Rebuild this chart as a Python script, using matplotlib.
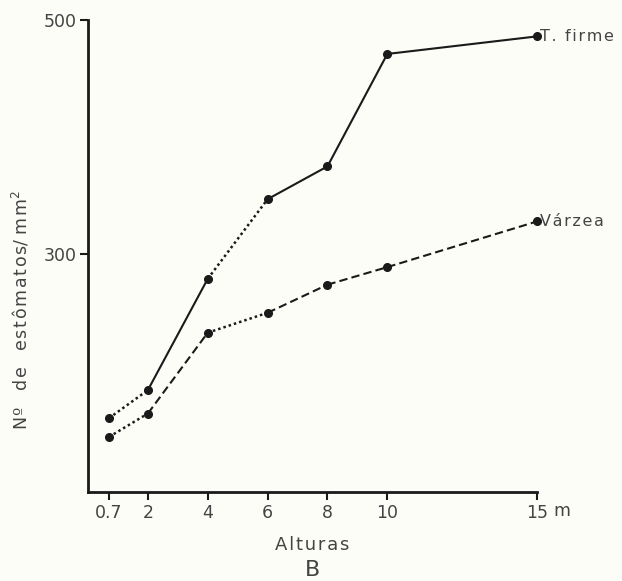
import matplotlib
matplotlib.use("Agg")
import matplotlib.pyplot as plt

# ---- data ----
heights = [0.7, 2, 4, 6, 8, 10, 15]
tick_labels = ["0.7", "2", "4", "6", "8", "10", "15"]
terra_firme = [160, 184, 279, 347, 375, 471, 486]
varzea = [144, 164, 233, 250, 274, 289, 328]
# segment styles between consecutive points
firme_styles = ["dotted", "solid", "dotted", "solid", "solid", "solid"]
varzea_styles = ["dotted", "dashed", "dotted", "dashed", "dashed", "dashed"]
series_names = ["T. firme", "Várzea"]
y_ticks = [300, 500]

bg = "#fdfdf8"
ink = "#1a1a1a"
txt = "#444444"
TS = "\u200a"


def track(s):
    return TS.join(s)


plt.rcParams["font.family"] = ["DejaVu Sans"]

fig = plt.figure(figsize=(6.22, 5.81), dpi=100, facecolor=bg)
ax = fig.add_axes([0.1415, 0.1532, 0.7218, 0.8124])
ax.set_facecolor(bg)

style_map = {"dotted": (0, (1, 1.2)), "dashed": (0, (4, 2)), "solid": "-"}


def draw(ys, styles):
    for i in range(len(heights) - 1):
        ls = style_map[styles[i]]
        lw = 1.5 if styles[i] != "dotted" else 1.8
        ax.plot(heights[i:i + 2], ys[i:i + 2], color=ink, lw=lw,
                linestyle=ls, solid_capstyle="butt", dash_capstyle="butt",
                clip_on=False)
    ax.plot(heights, ys, "o", color=ink, ms=5.5, linestyle="none",
            zorder=3, clip_on=False)


draw(terra_firme, firme_styles)
draw(varzea, varzea_styles)

for name, ys in zip(series_names, [terra_firme, varzea]):
    ax.annotate(track(name), (heights[-1], ys[-1]), xytext=(2.5, 0),
                textcoords="offset points", va="center", ha="left",
                fontsize=11.5, color=txt)

ax.set_xlim(0, 15)
ax.set_ylim(97, 500)
ax.set_xticks(heights)
ax.set_xticklabels(tick_labels)
ax.set_yticks(y_ticks)
ax.set_yticklabels([str(v) for v in y_ticks])

for s in ["top", "right"]:
    ax.spines[s].set_visible(False)
for s in ["left", "bottom"]:
    ax.spines[s].set_linewidth(2.0)
    ax.spines[s].set_color(ink)

ax.tick_params(axis="both", direction="out", length=6, width=1.5,
               color=ink, labelcolor=txt, labelsize=12.5, pad=2.5)

# unit "m" after the last tick label
ax.annotate("m", (heights[-1], 97), xytext=(11.5, -17.5),
            textcoords="offset points", ha="left", va="baseline",
            fontsize=12.5, color=txt, annotation_clip=False)

ax.set_ylabel(track("Nº") + "   " + track("de") + "   " + track("estômatos")
              + "/ " + track("mm") + "$^2$", fontsize=12.5, color=txt,
              labelpad=0)
ax.yaxis.set_label_coords(-0.125, 0.385)

fig.text(0.502, 1 - 545 / 581, track("Alturas"), ha="center", va="center",
         fontsize=13, color=txt)
fig.text(0.502, 1 - 570 / 581, "B", ha="center", va="center",
         fontsize=16, color=txt)

fig.savefig("out.png", dpi=100, facecolor=bg)
